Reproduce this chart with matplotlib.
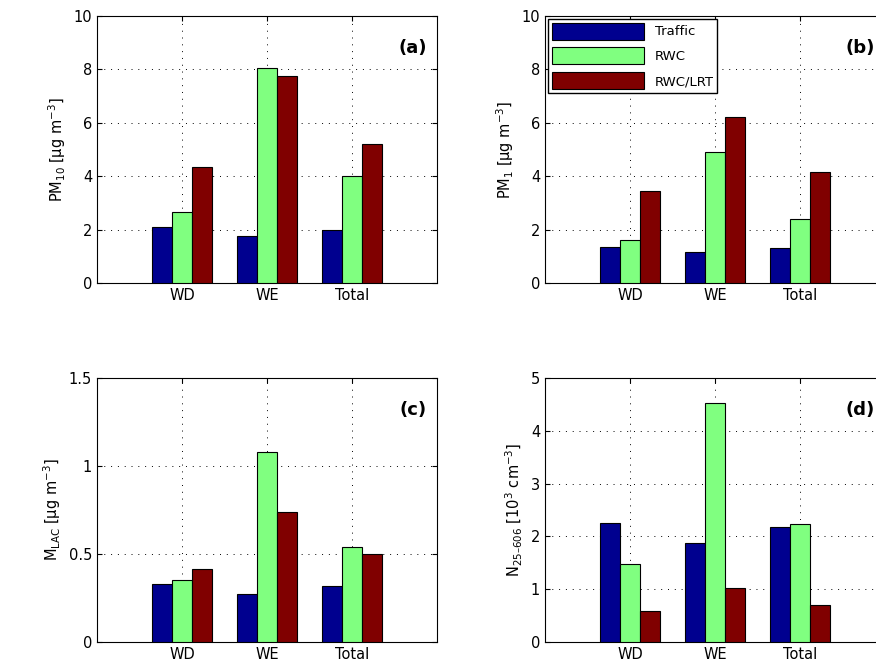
import matplotlib.pyplot as plt
import numpy as np

cats = ['WD', 'WE', 'Total']
series = ['Traffic', 'RWC', 'RWC/LRT']
colors = ['#00008f', '#80ff80', '#800000']

pm10 = [[2.1, 1.75, 2.0], [2.65, 8.05, 4.0], [4.35, 7.75, 5.2]]
pm1 = [[1.35, 1.15, 1.3], [1.6, 4.9, 2.4], [3.45, 6.2, 4.15]]
mlac = [[0.33, 0.27, 0.32], [0.355, 1.08, 0.54], [0.415, 0.74, 0.50]]
n25 = [[2.25, 1.88, 2.18], [1.48, 4.52, 2.23], [0.58, 1.03, 0.70]]

panels = [
    (pm10, 'PM$_{10}$ [µg m$^{-3}$]', '(a)', (0, 10), [0, 2, 4, 6, 8, 10], ['0', '2', '4', '6', '8', '10']),
    (pm1, 'PM$_1$ [µg m$^{-3}$]', '(b)', (0, 10), [0, 2, 4, 6, 8, 10], ['0', '2', '4', '6', '8', '10']),
    (mlac, 'M$_{LAC}$ [µg m$^{-3}$]', '(c)', (0, 1.5), [0, 0.5, 1, 1.5], ['0', '0.5', '1', '1.5']),
    (n25, 'N$_{25\u2013606}$ [10$^3$ cm$^{-3}$]', '(d)', (0, 5), [0, 1, 2, 3, 4, 5], ['0', '1', '2', '3', '4', '5']),
]

plt.rcParams['mathtext.default'] = 'regular'

W, H = 876, 669
# axes boxes in pixels: left, top, width, height
boxes = [(97, 16, 340, 267), (545, 16, 340, 267), (97, 378, 340, 264), (545, 378, 340, 264)]

fig = plt.figure(figsize=(W / 100, H / 100), dpi=100)
x = np.arange(1, 4)
w = 0.235
for (data, ylab, tag, ylim, yt, ytl), (l, t, bw, bh) in zip(panels, boxes):
    ax = fig.add_axes([l / W, 1 - (t + bh) / H, bw / W, bh / H])
    for i, (vals, c) in enumerate(zip(data, colors)):
        ax.bar(x + (i - 1) * w, vals, w, color=c, edgecolor='black', linewidth=0.8,
               label=series[i], zorder=3)
    ax.set_xlim(0, 4)
    ax.set_ylim(*ylim)
    ax.set_xticks(x)
    ax.set_xticklabels(cats)
    ax.set_yticks(yt)
    ax.set_yticklabels(ytl)
    ax.grid(True, linestyle=(0, (1, 6)), color='black', linewidth=0.7)
    ax.tick_params(direction='in', labelsize=10.5, top=True, right=True)
    ax.set_ylabel(ylab, fontsize=10.5)
    ax.text(0.97, 0.86, tag, transform=ax.transAxes, ha='right', fontsize=13, fontweight='bold')
    if tag == '(b)':
        ax.legend(loc='upper left', fontsize=9.5, fancybox=False, edgecolor='black',
                  framealpha=1, handlelength=7, handleheight=1.6, labelspacing=0.6,
                  borderaxespad=0.2, borderpad=0.3)

fig.savefig('out.png', dpi=100)
